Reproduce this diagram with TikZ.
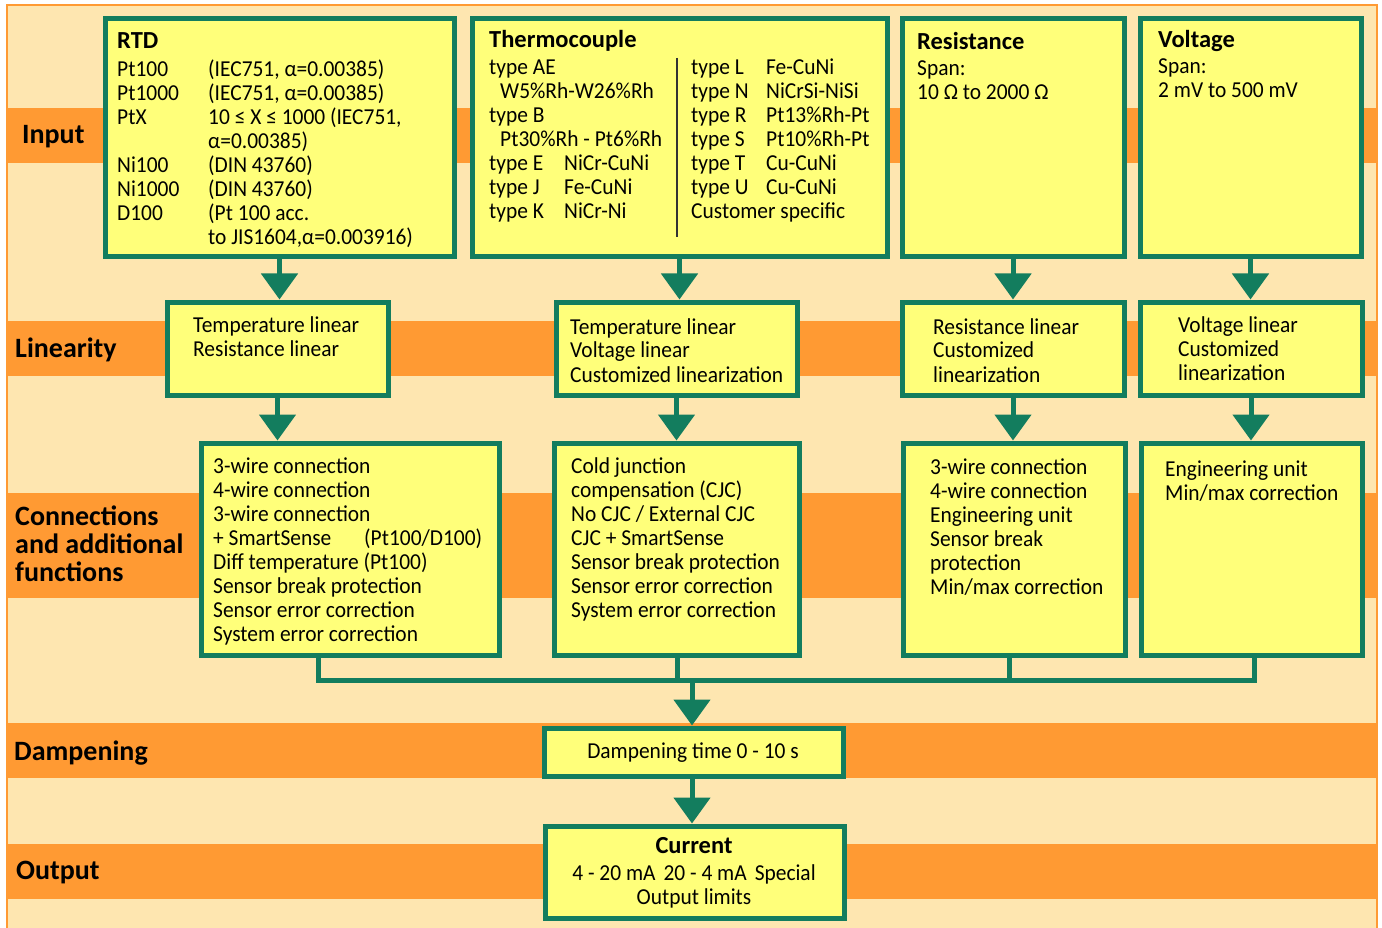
\documentclass[tikz,border=0pt]{standalone}
\usepackage{fontspec}
\setmainfont{Carlito}
\newfontfamily\condfont[FakeStretch=0.94]{Carlito}
\usetikzlibrary{arrows.meta}
\definecolor{bgbeige}{HTML}{FEE6B0}
\definecolor{bandorange}{HTML}{FF9A33}
\definecolor{boxgreen}{HTML}{137D5E}
\definecolor{boxyellow}{HTML}{FFFF7A}
\tikzset{
  band/.style={fill=bandorange, draw=none},
  box/.style={draw=boxgreen, line width=5pt, fill=boxyellow, rectangle, inner sep=0pt},
  txt/.style={anchor=base west, inner sep=0pt, font=\condfont\fontsize{22.8}{24}\selectfont},
  ctxt/.style={anchor=base, inner sep=0pt, font=\condfont\fontsize{22.8}{24}\selectfont},
  ttl/.style={anchor=base west, inner sep=0pt, font=\bfseries\fontsize{24.5}{28}\selectfont},
  lbl/.style={anchor=base west, inner sep=0pt, font=\bfseries\fontsize{28}{29}\selectfont},
  arr/.style={draw=boxgreen, line width=5pt, -{Triangle[width=36pt,length=26pt]}},
  bus/.style={draw=boxgreen, line width=5pt},
}
\newcommand{\tl}[1]{\begin{tabular}[t]{@{}l@{}}#1\end{tabular}}
\begin{document}
\begin{tikzpicture}[x=1pt,y=-1pt]
\useasboundingbox (0,0) rectangle (1382,928);
\fill[white] (0,0) rectangle (1382,928);
\fill[bgbeige] (7,5) rectangle (1377,940);
% bands
\fill[band] (7,108) rectangle (1377,163);
\fill[band] (7,321) rectangle (1377,376);
\fill[band] (7,493) rectangle (1377,598);
\fill[band] (7,723) rectangle (1377,778);
\fill[band] (7,844) rectangle (1377,899);
\draw[bandorange, line width=2.5pt] (7,940) -- (7,5) -- (1377,5) -- (1377,940);
% left labels
\node[lbl] (lbinput) at (22,144) {Input};
\node[lbl, align=left] (lbcon) at (15,525) {\begin{tabular}[t]{@{}l@{}}Connections\\[-1pt] and additional\\[-1pt] functions\end{tabular}};
\node[lbl] (lblin) at (15,357) {Linearity};
\node[lbl] (lbdamp) at (14,760) {Dampening};
\node[lbl] (lbout) at (16,879) {Output};
% input boxes
\node[box, minimum width=349pt, minimum height=238pt] (rtd) at (279.5,138) {};
\node[box, minimum width=415pt, minimum height=238pt] (tc) at (679.5,138) {};
\node[box, minimum width=222pt, minimum height=238pt] (res) at (1013,138) {};
\node[box, minimum width=221pt, minimum height=238pt] (vol) at (1250.5,138) {};
% linearity boxes
\node[box, minimum width=221pt, minimum height=93pt] (lin1) at (277.5,348.5) {};
\node[box, minimum width=241pt, minimum height=93pt] (lin2) at (676.5,348.5) {};
\node[box, minimum width=222pt, minimum height=93pt] (lin3) at (1013,348.5) {};
\node[box, minimum width=222pt, minimum height=93pt] (lin4) at (1251,348.5) {};
% connection boxes
\node[box, minimum width=298pt, minimum height=212pt] (con1) at (350,549) {};
\node[box, minimum width=245pt, minimum height=212pt] (con2) at (676.5,549) {};
\node[box, minimum width=222pt, minimum height=212pt] (con3) at (1014,549) {};
\node[box, minimum width=221pt, minimum height=212pt] (con4) at (1251.5,549) {};
% dampening, output
\node[box, minimum width=299pt, minimum height=48pt] (damp) at (694,752) {};
\node[box, minimum width=299pt, minimum height=92pt] (cur) at (695,872) {};
% RTD text
\node[ttl] (rtdt) at (117,49) {RTD};
\node[txt] (rtdx) at (117,77) {\begin{tabular}[t]{@{}p{91pt}@{}l@{}}
Pt100 & (IEC751, α=0.00385)\\
Pt1000 & (IEC751, α=0.00385)\\
PtX & 10 ≤ X ≤ 1000 (IEC751,\\
 & α=0.00385)\\
Ni100 & (DIN 43760)\\
Ni1000 & (DIN 43760)\\
D100 & (Pt 100 acc.\\
 & to JIS1604,α=0.003916)
\end{tabular}};
% Thermocouple text
\node[ttl] (tct) at (489,48) {Thermocouple};
\node[txt] (tcl) at (489,75) {\begin{tabular}[t]{@{}p{75pt}@{}l@{}}
type AE & \\
\multicolumn{2}{@{}l@{}}{\hspace{11pt}W5\%Rh-W26\%Rh}\\
type B & \\
\multicolumn{2}{@{}l@{}}{\hspace{11pt}Pt30\%Rh - Pt6\%Rh}\\
type E & NiCr-CuNi\\
type J & Fe-CuNi\\
type K & NiCr-Ni
\end{tabular}};
\node[txt] (tcr) at (691,75) {\begin{tabular}[t]{@{}p{75pt}@{}l@{}}
type L & Fe-CuNi\\
type N & NiCrSi-NiSi\\
type R & Pt13\%Rh-Pt\\
type S & Pt10\%Rh-Pt\\
type T & Cu-CuNi\\
type U & Cu-CuNi\\
\multicolumn{2}{@{}l@{}}{Customer specific}
\end{tabular}};
\coordinate (divtop) at (677,58);
\coordinate (divbot) at (677,237);
\draw[black!80, line width=1.5pt] (divtop) -- (divbot);
% Resistance / Voltage text
\node[ttl] (rest) at (917,50) {Resistance};
\node[txt] (resx) at (917,76) {\tl{Span:\\10 Ω to 2000 Ω}};
\node[ttl] (volt) at (1158,48) {Voltage};
\node[txt] (volx) at (1158,74) {\tl{Span:\\2 mV to 500 mV}};
% linearity text
\node[txt] (lin1x) at (193,332) {\tl{Temperature linear\\Resistance linear}};
\node[txt] (lin2x) at (570,334) {\tl{Temperature linear\\Voltage linear\\Customized linearization}};
\node[txt] (lin3x) at (933,334) {\tl{Resistance linear\\Customized\\linearization}};
\node[txt] (lin4x) at (1178,332) {\tl{Voltage linear\\Customized\\linearization}};
% connection text
\node[txt] (con1x) at (213,473) {\tl{3-wire connection\\4-wire connection\\3-wire connection\\\makebox[151pt][l]{+ SmartSense}(Pt100/D100)\\Diff temperature (Pt100)\\Sensor break protection\\Sensor error correction\\System error correction}};
\node[txt] (con2x) at (571,473) {\tl{Cold junction\\compensation (CJC)\\No CJC / External CJC\\CJC + SmartSense\\Sensor break protection\\Sensor error correction\\System error correction}};
\node[txt] (con3x) at (930,474) {\tl{3-wire connection\\4-wire connection\\Engineering unit\\Sensor break\\protection\\Min/max correction}};
\node[txt] (con4x) at (1165,476) {\tl{Engineering unit\\Min/max correction}};
% dampening / output text
\node[ctxt] (dampx) at (693,758) {Dampening time 0 - 10 s};
\node[anchor=base, inner sep=0pt, font=\bfseries\fontsize{24.5}{28}\selectfont] (curt) at (694,853) {Current};
\node[ctxt, align=center] (curx) at (694,880) {\begin{tabular}[t]{@{}c@{}}4 - 20 mA\hspace{8pt}20 - 4 mA\hspace{8pt}Special\\Output limits\end{tabular}};
% arrows input -> linearity
\draw[arr] (rtd.south) -- (rtd.south |- lin1.north);
\draw[arr] (tc.south) -- (tc.south |- lin2.north);
\draw[arr] (res.south) -- (res.south |- lin3.north);
\draw[arr] (vol.south) -- (vol.south |- lin4.north);
% arrows linearity -> connections
\draw[arr] (lin1.south) -- (lin1.south |- con1.north);
\draw[arr] (lin2.south) -- (lin2.south |- con2.north);
\draw[arr] (lin3.south) -- (lin3.south |- con3.north);
\draw[arr] (lin4.south) -- (lin4.south |- con4.north);
% bus
\coordinate (b1) at (318,680);
\coordinate (b2) at (677,680);
\coordinate (b3) at (1009,680);
\coordinate (b4) at (1254,680);
\coordinate (bm) at (692,680);
\draw[bus] (con1.south -| b1) -- (b1) -- (b4) -- (con4.south -| b4);
\draw[bus] (con2.south -| b2) -- (b2);
\draw[bus] (con3.south -| b3) -- (b3);
\draw[arr] (bm) -- (bm |- damp.north);
\draw[arr] (damp.south -| bm) -- (bm |- cur.north);
\end{tikzpicture}
\end{document}
